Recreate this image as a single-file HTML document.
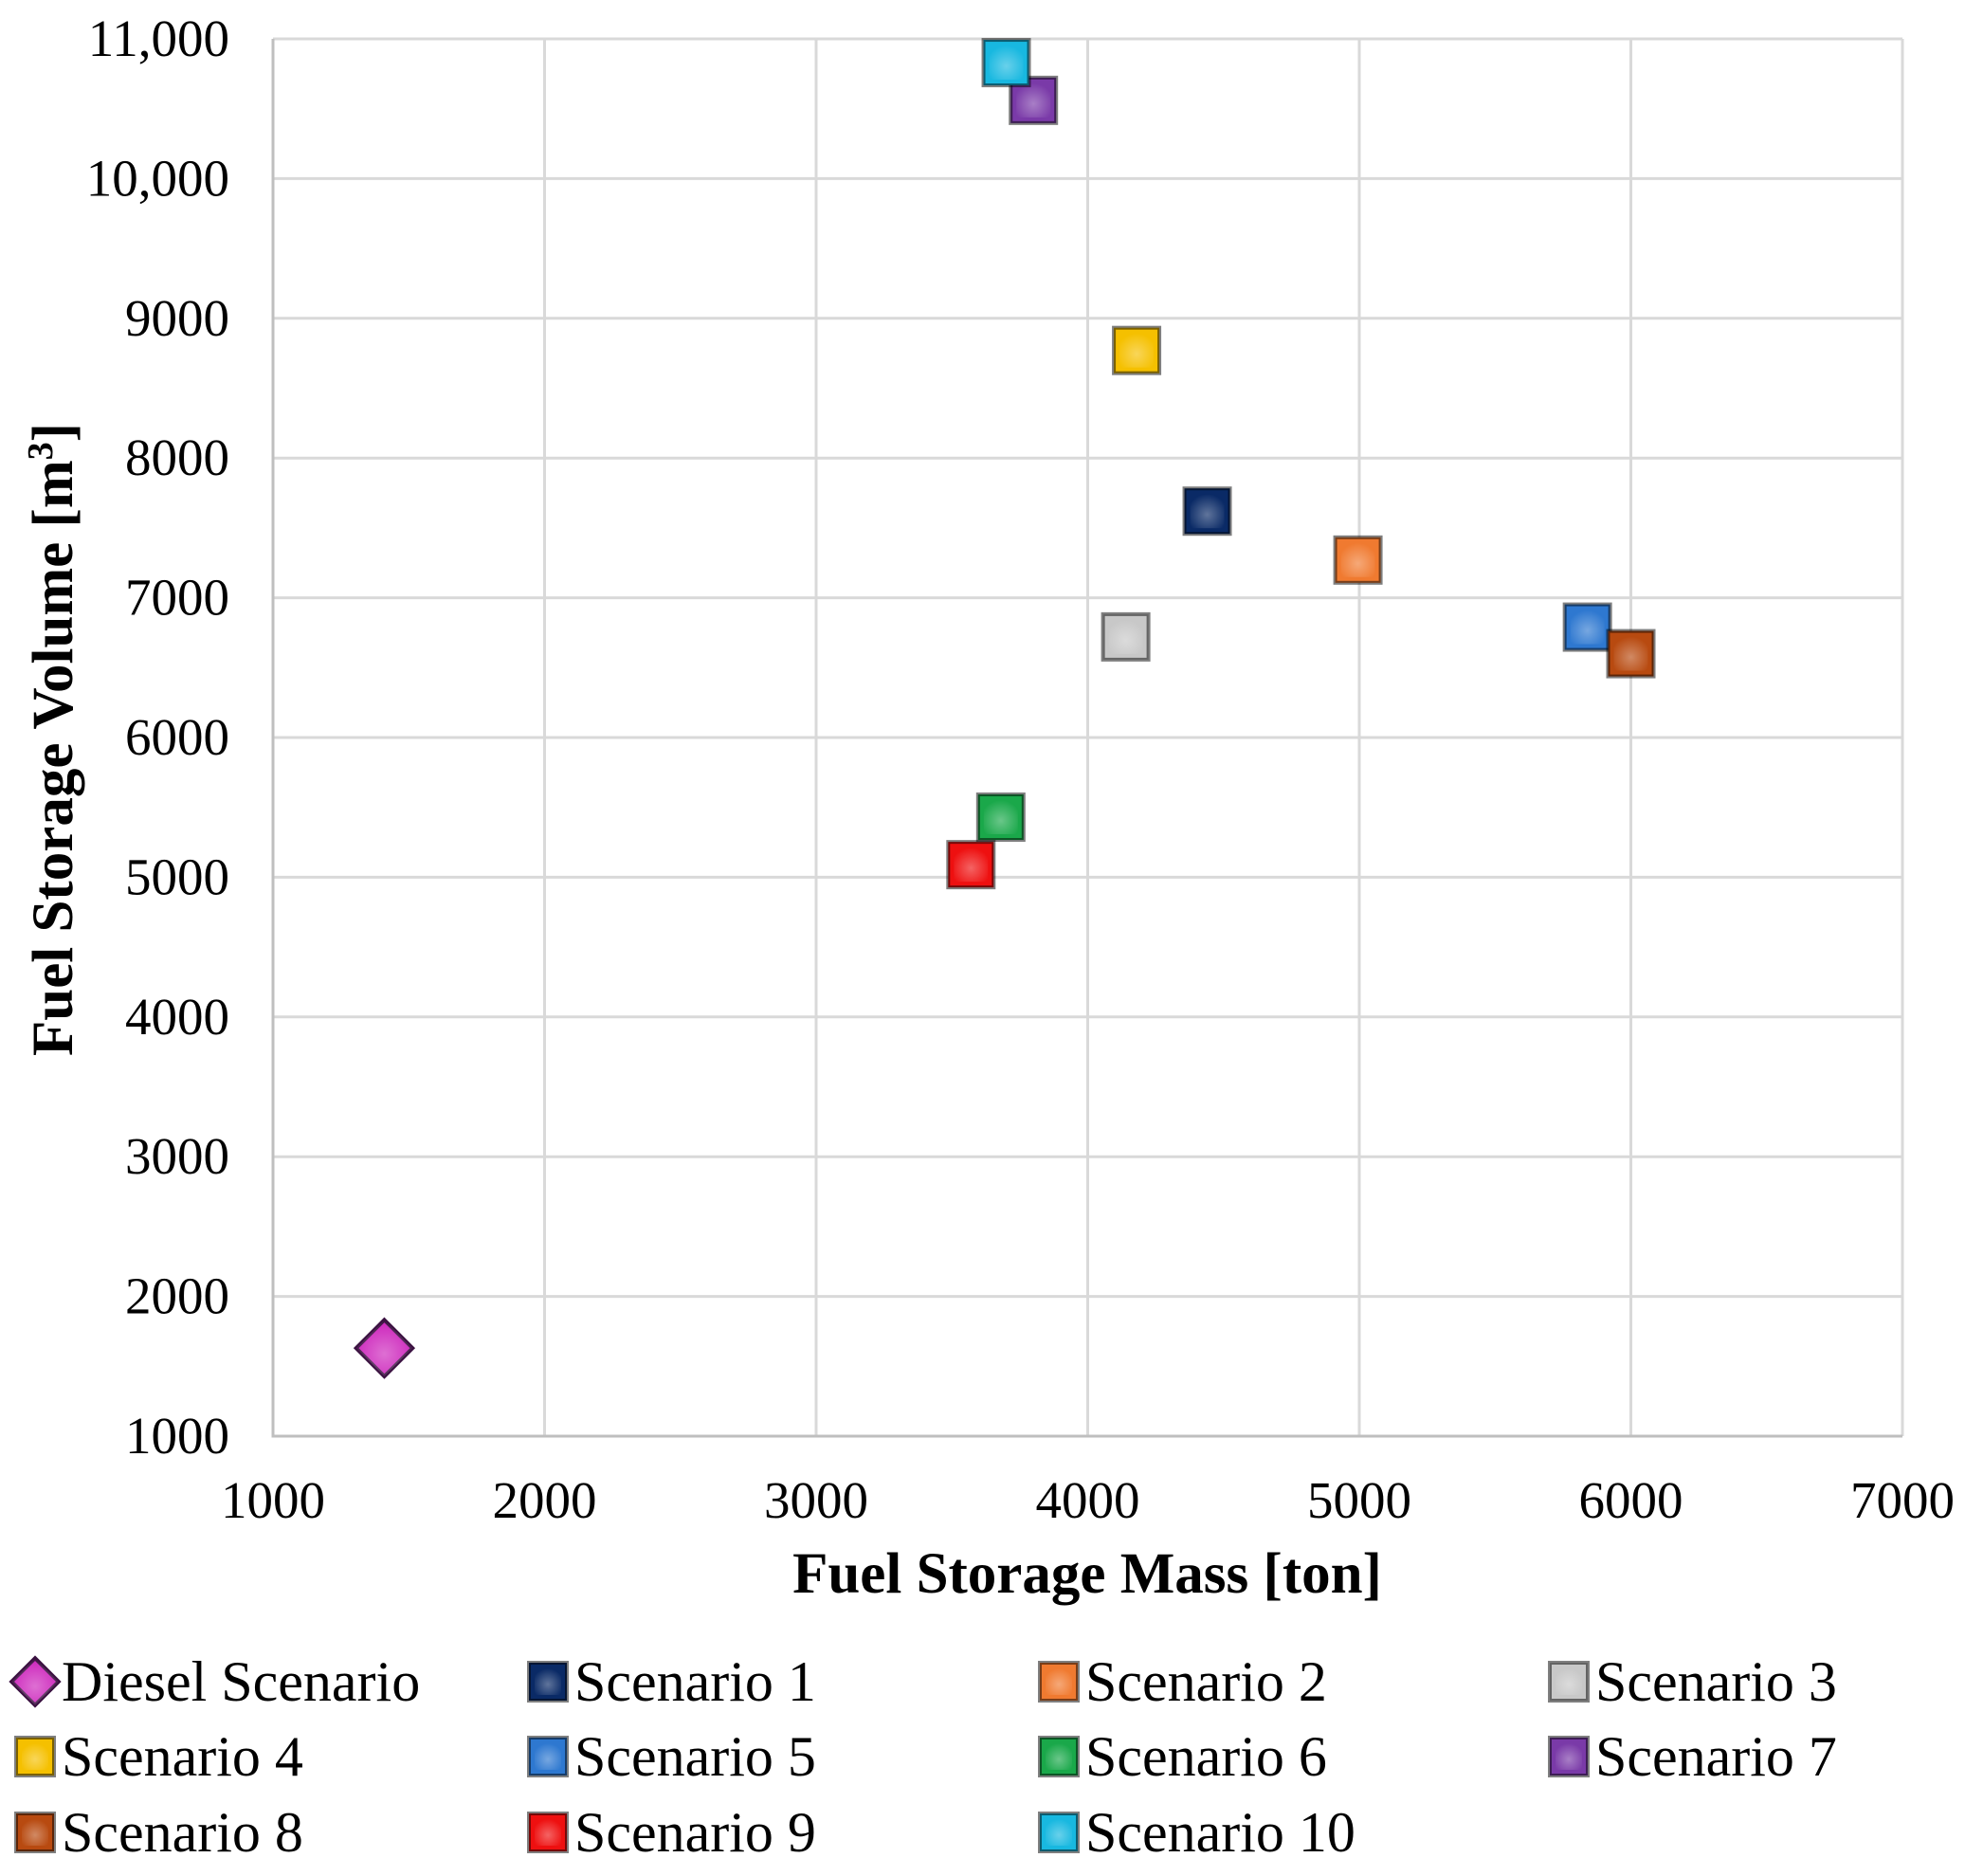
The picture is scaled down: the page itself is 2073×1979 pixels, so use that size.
<!DOCTYPE html>
<html><head><meta charset="utf-8"><style>
html,body{margin:0;padding:0;background:#fff}
svg{display:block;font-family:"Liberation Serif",serif}
</style></head><body>
<svg id="chart" width="2073" height="1979" viewBox="0 0 2073 1979">
<defs>
<radialGradient id="gl" cx="50%" cy="60%" r="60%"><stop offset="0" stop-color="#fff" stop-opacity="0.35"/><stop offset="1" stop-color="#fff" stop-opacity="0"/></radialGradient>
</defs>
<g id="grid"></g>
<g id="ticks"></g>
<g id="marks"></g>
<text x="1147" y="1680" text-anchor="middle" font-size="61" font-weight="bold">Fuel Storage Mass [ton]</text>
<text transform="translate(76,780) rotate(-90)" text-anchor="middle" font-size="61" font-weight="bold">Fuel Storage Volume [m<tspan baseline-shift="super" font-size="38">3</tspan>]</text>
<g id="legend"></g>
</svg>
<script>
const names = ["Diesel Scenario","Scenario 1","Scenario 2","Scenario 3","Scenario 4","Scenario 5","Scenario 6","Scenario 7","Scenario 8","Scenario 9","Scenario 10"];
const massValues = [1410,4440,4995,4140,4180,5840,3680,3800,6000,3570,3700];
const volumeValues = [1630,7620,7270,6720,8770,6790,5430,10560,6600,5090,10830];
const colors = ["#cc22bb","#0a2a66","#f07a30","#c8c8c8","#f5c000","#2e78d0","#1aa84a","#7a3aa8","#b84a10","#ee1010","#18b8e0"];
const xTicks = [1000,2000,3000,4000,5000,6000,7000];
const yTicks = [1000,2000,3000,4000,5000,6000,7000,8000,9000,10000,11000];
const yTickLabels = ["1000","2000","3000","4000","5000","6000","7000","8000","9000","10,000","11,000"];
const NS="http://www.w3.org/2000/svg";
const L=288,R=2007,T=41,B=1515;
const sx=v=>L+(v-1000)/6000*(R-L);
const sy=v=>B-(v-1000)/10000*(B-T);
function mk(tag,a,p){const e=document.createElementNS(NS,tag);for(const k in a)e.setAttribute(k,a[k]);p.appendChild(e);return e;}
const grid=document.getElementById('grid'),ticks=document.getElementById('ticks'),marks=document.getElementById('marks'),legend=document.getElementById('legend');
xTicks.forEach(v=>{const l=mk('line',{x1:sx(v),x2:sx(v),y1:T,y2:B,stroke:'#d9d9d9','stroke-width':3},grid);


const t=mk('text',{x:sx(v),y:1601,'text-anchor':'middle','font-size':55},ticks);t.textContent=v;

});
yTicks.forEach((v,i)=>{const l=mk('line',{x1:L,x2:R,y1:sy(v),y2:sy(v),stroke:'#d9d9d9','stroke-width':3},grid);


const t=mk('text',{x:242,y:sy(v)+18,'text-anchor':'end','font-size':55},ticks);t.textContent=yTickLabels[i];

});
const ax=mk('path',{d:`M${L},${T}V${B}H${R}`,stroke:'#bfbfbf','stroke-width':3,fill:'none'},grid);


function marker(p,i,cx,cy,s){
 if(i===0){const d=s*0.62;const e=mk('path',{d:`M${cx},${cy-d}L${cx+d},${cy}L${cx},${cy+d}L${cx-d},${cy}Z`,fill:colors[i],stroke:'#3a1040','stroke-width':4},p);mk('path',{d:`M${cx},${cy-d}L${cx+d},${cy}L${cx},${cy+d}L${cx-d},${cy}Z`,fill:'url(#gl)'},p);return e;}
 const h=s/2;const e=mk('rect',{x:cx-h,y:cy-h,width:s,height:s,fill:colors[i],stroke:'rgba(0,0,0,0.5)','stroke-width':4},p);
 mk('rect',{x:cx-h+6,y:cy-h+6,width:s-12,height:s-12,fill:'url(#gl)'},p);return e;}
massValues.forEach((m,i)=>{const g=mk('g',{},marks);


marker(g,i,sx(m),sy(volumeValues[i]),48);});
const colX=[37,578,1117,1655],rowY=[1774,1853,1933];
names.forEach((n,i)=>{const c=i%4,r=Math.floor(i/4);const g=mk('g',{},legend);


marker(g,i,colX[c],rowY[r],40);
const t=mk('text',{x:colX[c]+28,y:rowY[r]+20,'font-size':60},g);t.textContent=n;});
</script>
</body></html>
